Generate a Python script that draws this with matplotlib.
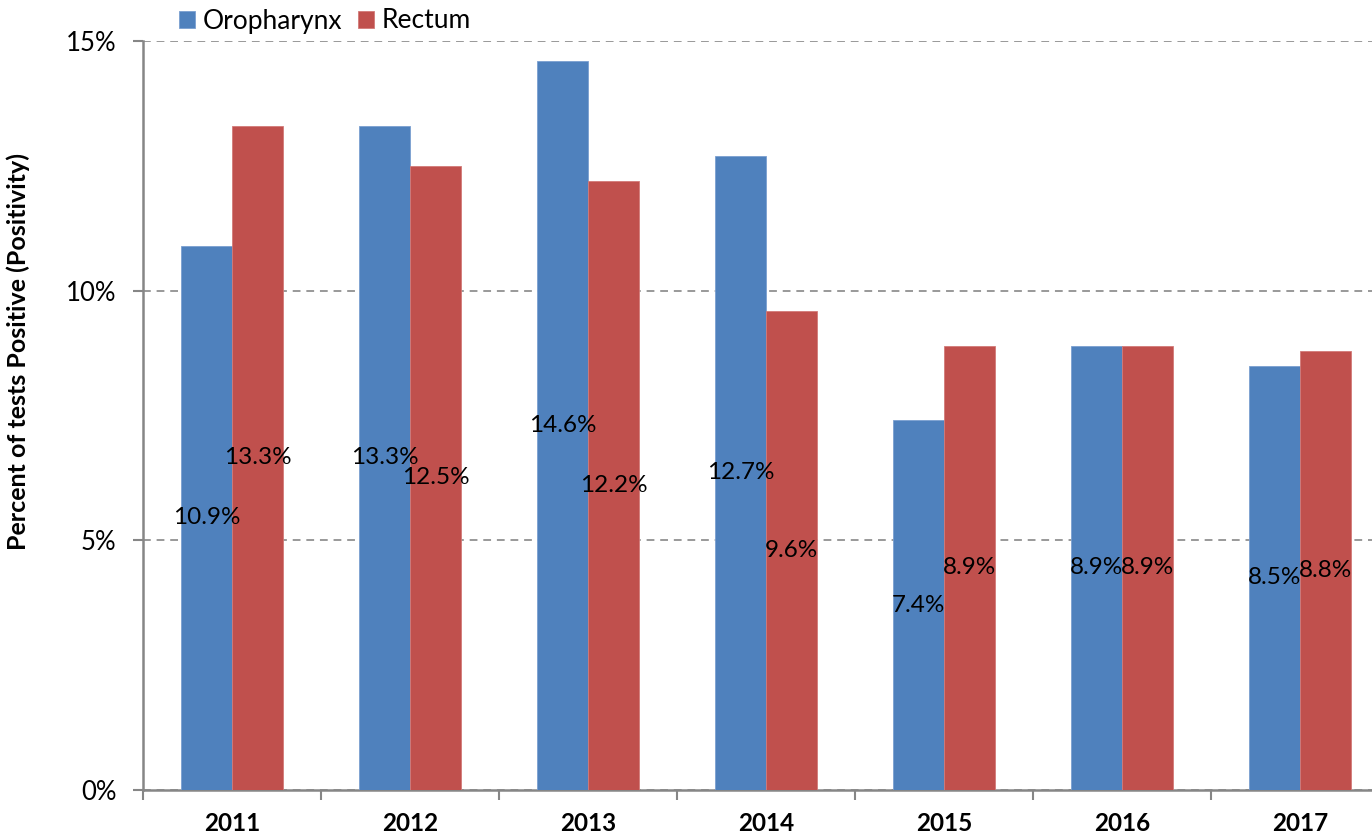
import matplotlib
matplotlib.use("Agg")
import matplotlib.pyplot as plt
import numpy as np

years = ["2011", "2012", "2013", "2014", "2015", "2016", "2017"]
oropharynx = [10.9, 13.3, 14.6, 12.7, 7.4, 8.9, 8.5]
rectum = [13.3, 12.5, 12.2, 9.6, 8.9, 8.9, 8.8]
yticks = [0, 5, 10, 15]
ytick_labels = ["0%", "5%", "10%", "15%"]

plt.rcParams['font.family'] = ['Lato', 'DejaVu Sans']

fig = plt.figure(figsize=(13.72, 8.35), dpi=100)
W, H = 1372, 835
x0, x1 = 143, 1389
y0, y1 = 790, 41
ax = fig.add_axes([x0 / W, (H - y0) / H, (x1 - x0) / W, (y0 - y1) / H])

x = np.arange(len(years))
bw = 0.287
c_blue = "#4F81BD"
c_red = "#C0504D"
b1 = ax.bar(x - bw / 2, oropharynx, bw, color=c_blue, edgecolor="#7a9fd0", linewidth=0.6, label="Oropharynx", zorder=3)
b2 = ax.bar(x + bw / 2, rectum, bw, color=c_red, edgecolor="#d37a78", linewidth=0.6, label="Rectum", zorder=3)

for xi, v in zip(x - bw / 2, oropharynx):
    ax.text(xi, v / 2, f"{v:.1f}%", ha="center", va="center", fontsize=17.5, zorder=4)
for xi, v in zip(x + bw / 2, rectum):
    ax.text(xi, v / 2, f"{v:.1f}%", ha="center", va="center", fontsize=17.5, zorder=4)

ax.set_xlim(-0.5, len(years) - 0.5)
ax.set_ylim(0, 15)
ax.set_yticks(yticks)
ax.set_yticklabels(ytick_labels, fontsize=18.5)
ax.yaxis.grid(True, linestyle=(0, (4, 3)), color="#999999", linewidth=1.4, zorder=0)
ax.set_axisbelow(True)

ax.set_xticks(np.arange(-0.5, len(years), 1.0))
ax.set_xticklabels([])
ax.set_xticks(x, minor=True)
ax.set_xticklabels(years, minor=True, fontsize=17.5, fontweight="bold")
ax.tick_params(axis="x", which="minor", length=0, pad=16)
ax.tick_params(axis="x", which="major", length=7, width=1.5, color="#868686", direction="out")
ax.tick_params(axis="y", length=7, width=1.5, color="#868686", direction="out", pad=12)

for s in ["top", "right"]:
    ax.spines[s].set_visible(False)
for s in ["left", "bottom"]:
    ax.spines[s].set_color("#868686")
    ax.spines[s].set_linewidth(1.8)

ax.set_ylabel("Percent of tests Positive (Positivity)", fontsize=18, fontweight="bold")
ax.yaxis.set_label_coords(30 / W, 1 - 352 / H, transform=fig.transFigure)

fig.legend(handles=[b1, b2], labels=["Oropharynx", "Rectum"], loc="center",
           bbox_to_anchor=(325 / W, 1 - 21 / H), ncol=2, frameon=False, fontsize=19,
           handlelength=0.6, handleheight=0.6, handletextpad=0.3, columnspacing=0.6,
           borderpad=0)

fig.savefig("out.png", dpi=100)
